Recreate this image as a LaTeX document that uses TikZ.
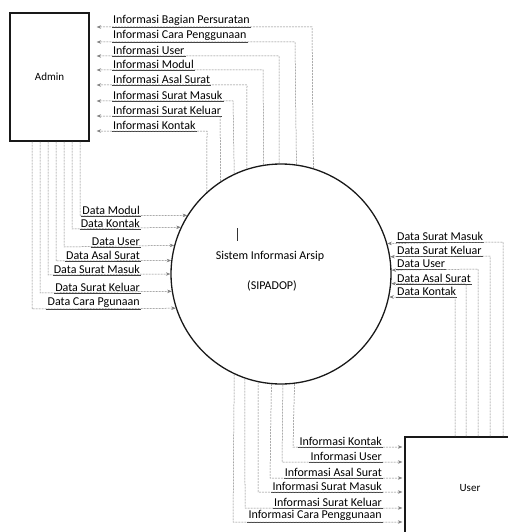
\documentclass[tikz,border=0pt]{standalone}
\usepackage{fontspec}
\setmainfont{Carlito}
\usetikzlibrary{arrows.meta}
\begin{document}
\begin{tikzpicture}[x=1pt,y=-1pt,
  entity/.style={draw=black!90, line width=1.3pt, font=\fontsize{11}{13}\selectfont, text=black},
  lbl/.style={inner sep=1pt, font=\fontsize{12}{14}\selectfont, text=black,
    append after command={(\tikzlastnode.south west) edge[draw=black!75, line width=0.5pt] (\tikzlastnode.south east)}},
  flow/.style={draw=black!50, line width=0.5pt, dash pattern=on 2pt off 1pt,
    -{Stealth[length=4.5pt,width=3.5pt]}},
  systext/.style={font=\fontsize{12}{14}\selectfont, text=black}
]
\useasboundingbox (0,0) rectangle (507,532);

% entities and process
\node[entity, minimum width=79pt, minimum height=128pt, inner sep=0pt] (admin) at (49.5,77) {Admin};
\node[entity, minimum width=130pt, minimum height=103pt, inner sep=0pt] (user) at (470,488.5) {User};
\node[draw=black!90, line width=1.3pt, circle, minimum size=220pt, inner sep=0pt] (sys) at (281,274) {};
\node[systext] (t1) at (270,256) {Sistem Informasi Arsip};
\node[systext] (t2) at (272,286) {(SIPADOP)};
\draw[line width=0.9pt, black!80] (237,228) -- (237,241);

% system -> Admin (information)
\foreach \lab/\y/\x [count=\i] in {
  Informasi Bagian Persuratan/27/312,
  Informasi Cara Penggunaan/42/295,
  Informasi User/56/279,
  Informasi Modul/70/263,
  Informasi Asal Surat/85/247,
  Informasi Surat Masuk/101/233,
  Informasi Surat Keluar/116/220,
  Informasi Kontak/131/207} {
  \pgfmathsetmacro\ang{acos((\x-281)/110)}
  \node[lbl, anchor=south west] (ai\i) at (112,\y) {\lab};
  \draw[flow] (sys.\ang) -- (\x,\y) -- ([xshift=7pt]admin.east |- ai\i.south);
}

% Admin -> system (data)
\foreach \lab/\y/\x [count=\i] in {
  Data Modul/216/80,
  Data Kontak/229/72,
  Data User/247/64,
  Data Asal Surat/261/56,
  Data Surat Masuk/275/48,
  Data Surat Keluar/293/40,
  Data Cara Pgunaan/309/32} {
  \pgfmathsetmacro\ang{180-asin((274-\y)/110)}
  \node[lbl, anchor=south east] (ad\i) at (141,\y) {\lab};
  \draw[flow] (admin.south -| \x,0) -- (\x,\y) -- (sys.\ang);
}

% User -> system (data)
\foreach \lab/\y/\x [count=\i] in {
  Data Surat Masuk/242/503,
  Data Surat Keluar/256/490,
  Data User/269/478,
  Data Asal Surat/284/466,
  Data Kontak/297/455} {
  \pgfmathsetmacro\ang{asin((274-\y)/110)}
  \node[lbl, anchor=south west] (ud\i) at (396,\y) {\lab};
  \draw[flow] (user.north -| \x,0) -- (\x,\y) -- (sys.\ang);
}

% system -> User (information)
\foreach \lab/\y/\x [count=\i] in {
  Informasi Kontak/447/293,
  Informasi User/462/282,
  Informasi Asal Surat/478/270,
  Informasi Surat Masuk/492/258,
  Informasi Surat Keluar/508/245,
  Informasi Cara Penggunaan/522/233} {
  \pgfmathsetmacro\ang{-acos((\x-281)/110)}
  \node[lbl, anchor=south east] (ui\i) at (383,\y) {\lab};
  \draw[flow] (sys.\ang) -- (\x,\y) -- ([xshift=-2pt]user.west |- ui\i.south);
}
\end{tikzpicture}
\end{document}
